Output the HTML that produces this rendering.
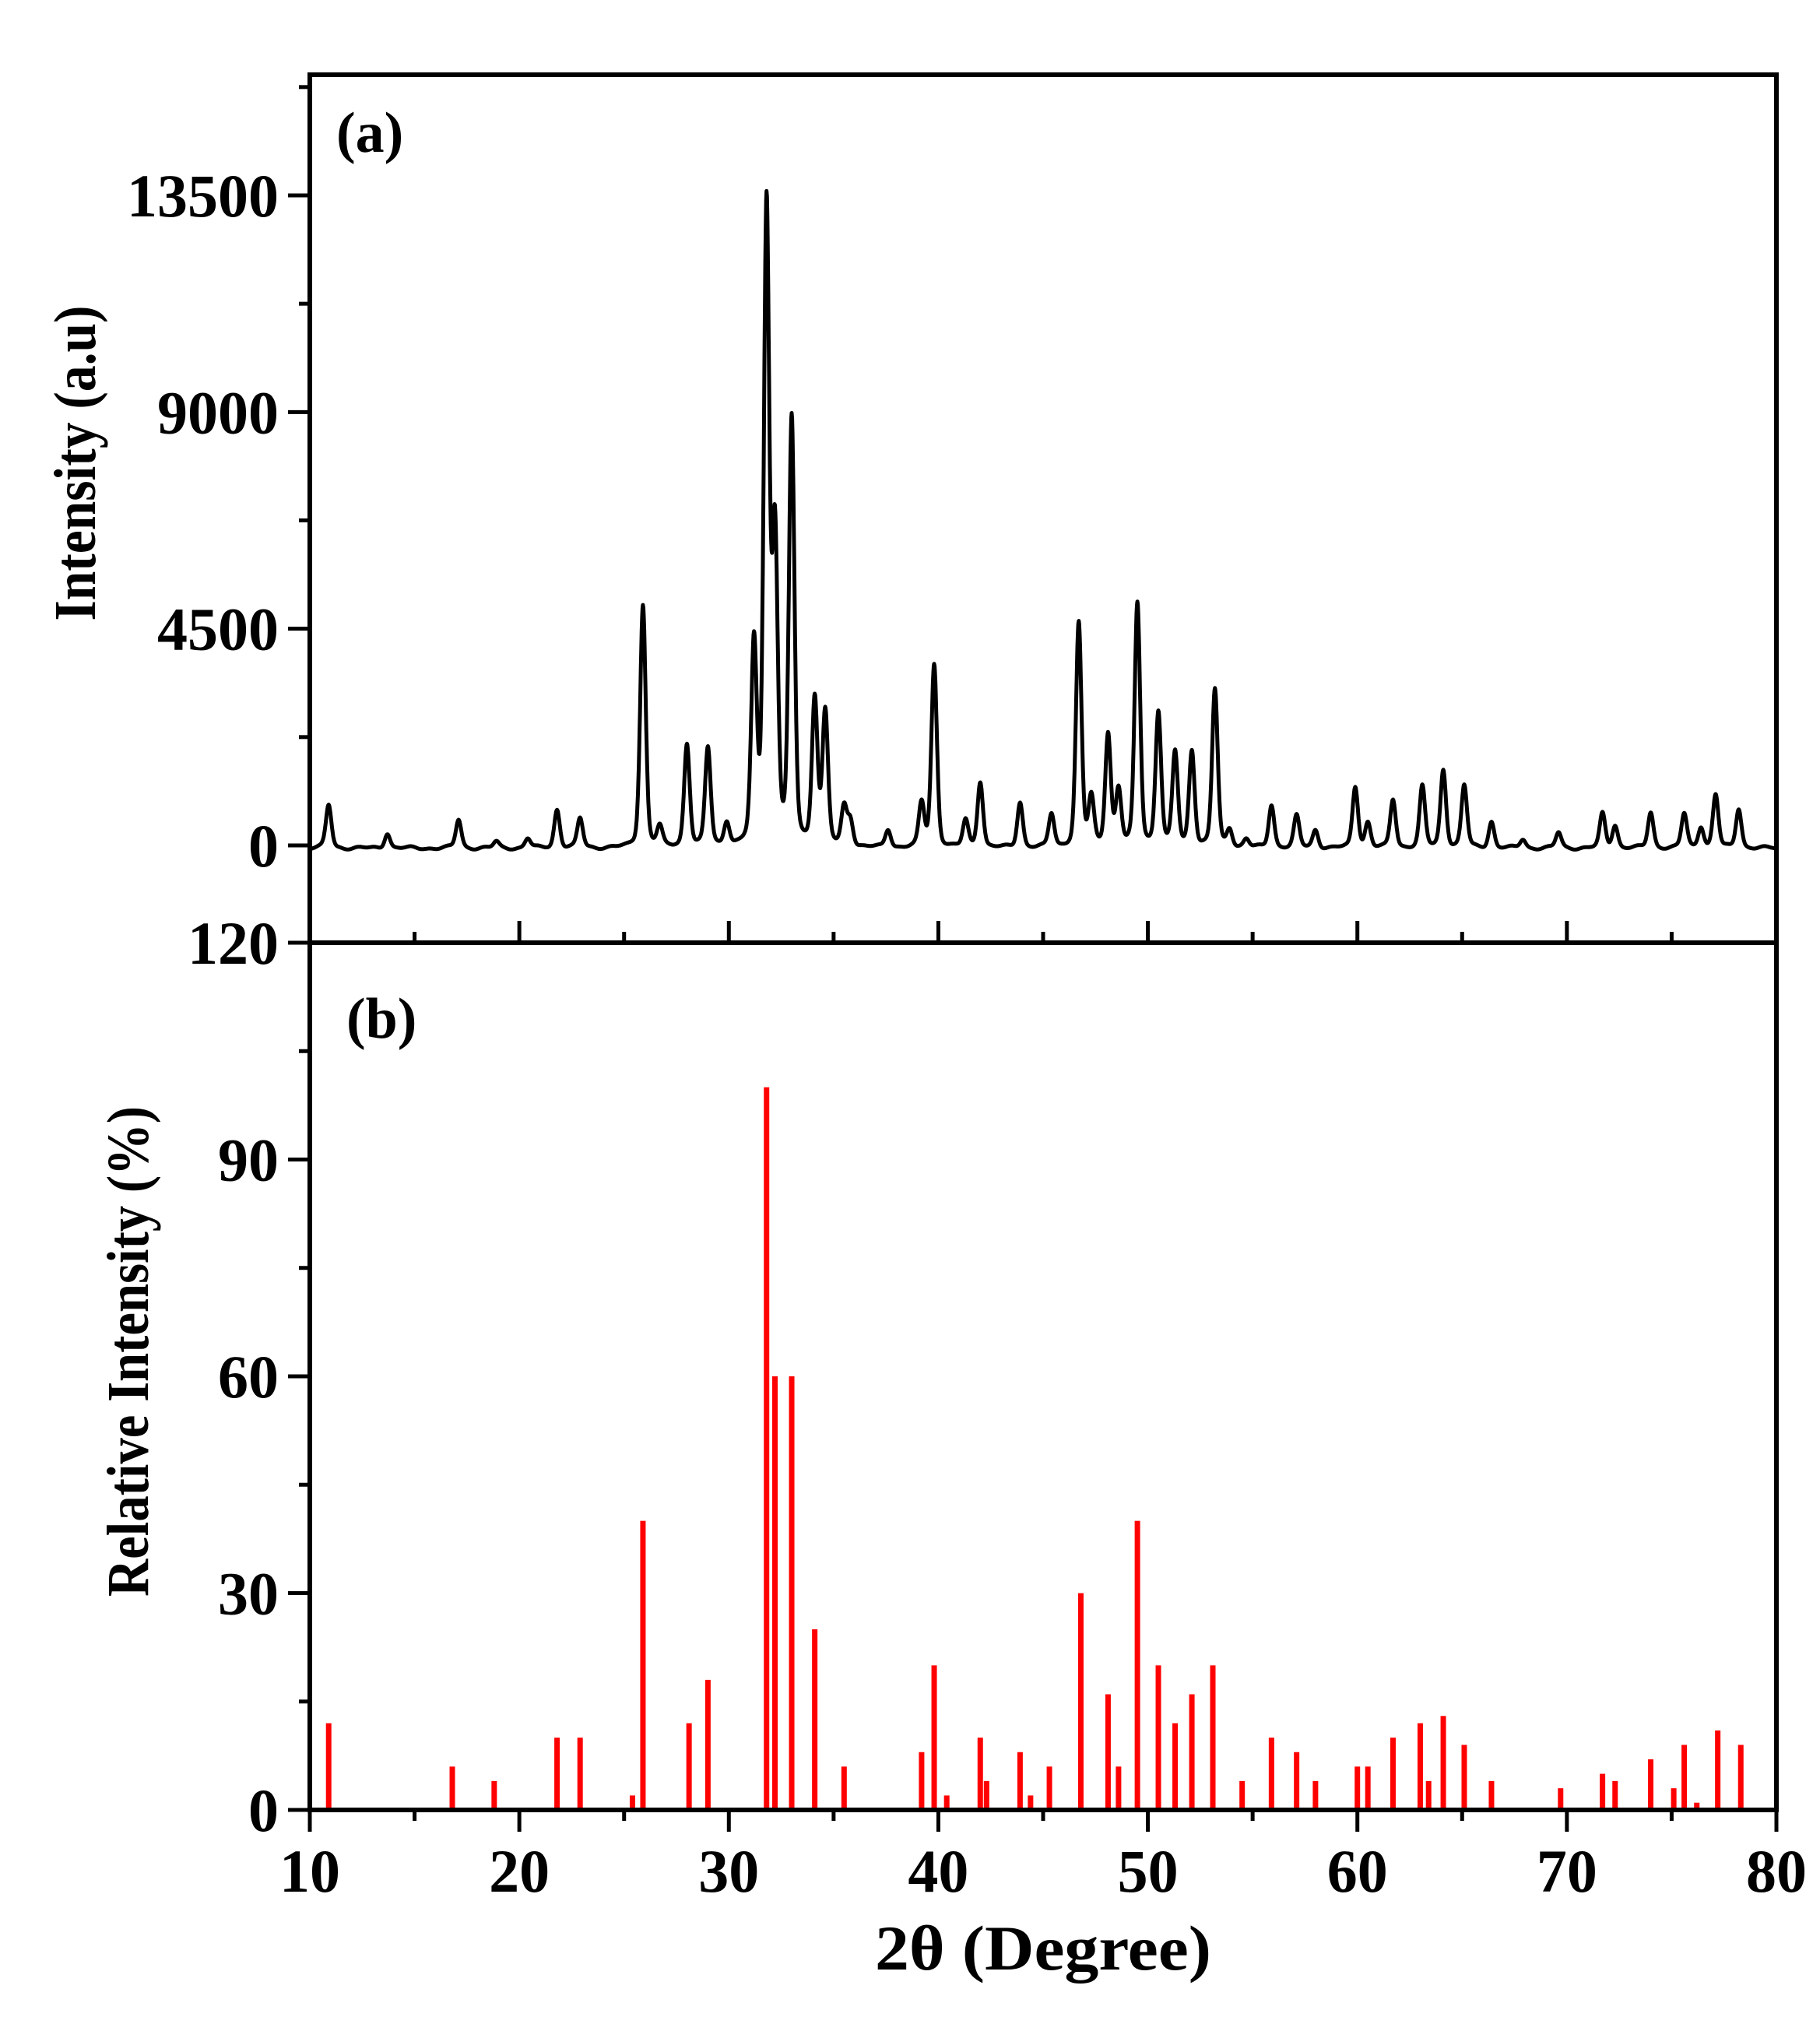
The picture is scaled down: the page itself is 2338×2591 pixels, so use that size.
<!DOCTYPE html>
<html><head><meta charset="utf-8"><style>
html,body{margin:0;padding:0;background:#fff}
svg{display:block}
text{font-family:"Liberation Serif",serif;font-weight:bold;fill:#000}
</style></head><body>
<svg id="s" width="2338" height="2591" viewBox="0 0 2338 2591" xmlns="http://www.w3.org/2000/svg">
<g id="g"></g>
<text x="432" y="195" font-size="74">(a)</text>
<text x="445" y="1333" font-size="74">(b)</text>
<text x="1340" y="2530" font-size="82" text-anchor="middle" textLength="432" lengthAdjust="spacingAndGlyphs">2θ (Degree)</text>
<text transform="translate(122,595) rotate(-90)" font-size="76" text-anchor="middle" textLength="405" lengthAdjust="spacingAndGlyphs">Intensity (a.u)</text>
<text transform="translate(190,1736) rotate(-90)" font-size="76" text-anchor="middle" textLength="630" lengthAdjust="spacingAndGlyphs">Relative Intensity (%)</text>
</svg>
<script>
var NS="http://www.w3.org/2000/svg",g=document.getElementById('g');
function el(t,a,txt){var e=document.createElementNS(NS,t);for(var k in a)e.setAttribute(k,a[k]);if(txt!=null)e.textContent=txt;g.appendChild(e);return e;}
var XR=2282;
function X(t){return 398+(t-10)*(XR-398)/70;}
function Ya(c){return 1086-c*835/13500;}
function Yb(p){return 2325-p*1114/120;}
var pk=[[10.9,900],[13.7,320],[17.1,590],[18.9,130],[20.4,200],[21.8,800],[22.9,610],[25.9,5050],[26.7,400],[28.0,2150],[29.0,2050],[29.9,500],[31.2,4100],[31.8,13200],[32.2,6300],[33.0,8800],[34.1,3050],[34.6,2750],[35.5,800],[35.8,550],[37.6,370],[39.2,900],[39.8,3800],[41.3,560],[42.0,1380],[43.9,950],[45.4,690],[46.7,4650],[47.3,1000],[48.1,2350],[48.6,1150],[49.5,5050],[50.5,2800],[51.3,1950],[52.1,2000],[53.2,3280],[53.9,370],[54.7,180],[55.9,890],[57.1,660],[58.0,370],[59.9,1270],[60.5,520],[61.7,1000],[63.1,1270],[64.1,1620],[65.1,1300],[66.4,550],[67.9,180],[69.6,320],[71.7,710],[72.3,470],[74.0,740],[75.6,710],[76.4,440],[77.1,1110],[78.2,820]];
var d="";
for(var t=10;t<=80.001;t+=0.02){var c=-60+25*Math.sin(t*3.1)+15*Math.sin(t*7.3);for(var i=0;i<pk.length;i++){var dx=(t-pk[i][0])/0.13;c+=pk[i][1]*(0.7*Math.exp(-0.5*dx*dx)+0.3/(1+dx*dx*0.6));}
d+=(d?"L":"M")+X(t).toFixed(1)+","+Ya(c).toFixed(1);}
el('path',{d:d,fill:'none',stroke:'#000','stroke-width':5,'stroke-linejoin':'round'});
var st=[[10.9,12],[16.8,6],[18.8,4],[21.8,10],[22.9,10],[25.4,2],[25.9,40],[28.1,12],[29.0,18],[31.8,100],[32.2,60],[33.0,60],[34.1,25],[35.5,6],[39.2,8],[39.8,20],[40.4,2],[42.0,10],[42.3,4],[43.9,8],[44.4,2],[45.3,6],[46.8,30],[48.1,16],[48.6,6],[49.5,40],[50.5,20],[51.3,12],[52.1,16],[53.1,20],[54.5,4],[55.9,10],[57.1,8],[58.0,4],[60.0,6],[60.5,6],[61.7,10],[63.0,12],[63.4,4],[64.1,13],[65.1,9],[66.4,4],[69.7,3],[71.7,5],[72.3,4],[74.0,7],[75.1,3],[75.6,9],[76.2,1],[77.2,11],[78.3,9]];
st.forEach(function(s){el('rect',{x:X(s[0])-3.5,y:Yb(s[1]),width:7,height:2325-Yb(s[1]),fill:'#f00'});});
el('rect',{x:398,y:96,width:XR-398,height:1115,fill:'none',stroke:'#000','stroke-width':6});
el('rect',{x:398,y:1211,width:XR-398,height:1114,fill:'none',stroke:'#000','stroke-width':6});
for(var t=10;t<=80;t+=5){var maj=(t%10==0),x=X(t);
el('line',{x1:x,y1:2325,x2:x,y2:2325+(maj?28:14),stroke:'#000','stroke-width':5});
el('line',{x1:x,y1:1211,x2:x,y2:1211-(maj?28:14),stroke:'#000','stroke-width':5});
if(maj)el('text',{x:x,y:2430,'font-size':78,'text-anchor':'middle'},String(t));}
for(var v=0;v<=16000;v+=2250){var y=Ya(v),maj=(v%4500==0);if(y<100)break;
el('line',{x1:398,y1:y,x2:398-(maj?28:14),y2:y,stroke:'#000','stroke-width':5});
if(maj)el('text',{x:358,y:y+27,'font-size':78,'text-anchor':'end'},String(v));}
for(var v=0;v<=120;v+=15){var y=Yb(v),maj=(v%30==0);
el('line',{x1:398,y1:y,x2:398-(maj?28:14),y2:y,stroke:'#000','stroke-width':5});
if(maj)el('text',{x:358,y:y+27,'font-size':78,'text-anchor':'end'},String(v));}
</script>
</body></html>
